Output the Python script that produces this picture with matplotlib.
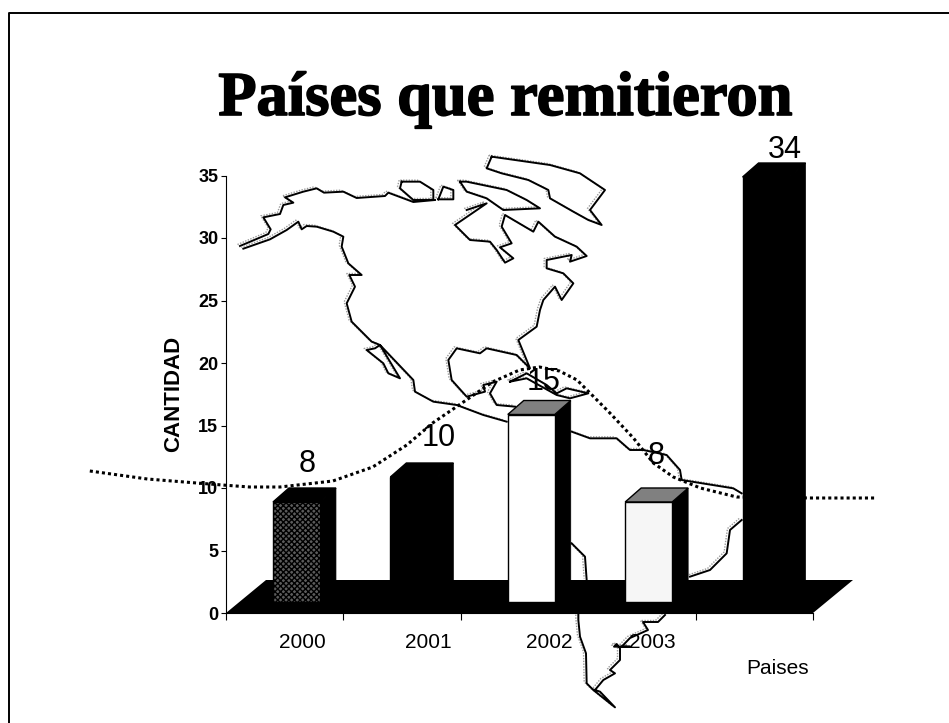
import matplotlib
matplotlib.use('Agg')
import matplotlib.pyplot as plt
import matplotlib.patheffects as pe
import numpy as np

plt.rcParams['font.family'] = ['Liberation Sans', 'DejaVu Sans']

# chart values
years = ['2000', '2001', '2002', '2003']
counts = [8, 10, 15, 8, 34]
y_ticks = [0, 5, 10, 15, 20, 25, 30, 35]

# dotted trend line (x in category units)
trend_x = [-1.16, -0.67, -0.25, -0.03, 0.2, 0.46, 0.91, 1.25, 1.54, 1.76, 2.01, 2.27,
           2.5, 2.67, 2.84, 2.99, 3.27, 3.47, 3.64, 3.81, 4.04, 4.35, 4.99, 5.53]
trend_y = [11.36, 10.72, 10.4, 10.24, 10.08, 10.08, 10.56, 11.68, 13.44, 15.2, 16.8, 18.48,
           19.44, 19.68, 19.36, 18.64, 16.0, 14.0, 12.0, 10.88, 10.0, 9.28, 9.2, 9.2]

# style of the pseudo 3d bars
front_colors = ['#5c5c5c', 'black', 'white', '#f6f6f6', 'black']
front_hatch = ['xxxxxx', None, None, None, None]
top_colors = ['black', 'black', '#808080', '#808080', 'black']
label_dx = [11, 25, 12, 7, 19]
label_dy = [38, 39, 33, 46, 27]

W, H = 949, 723

# coastlines, traced in zoomed crops: (x0, y0) is the crop corner, scale 3
north_america = [(120, 318), (205, 282), (212, 268), (190, 232), (240, 222), (250, 195), (280, 188),
                 (255, 172), (310, 155), (350, 145), (372, 158), (430, 155), (470, 174), (555, 168),
                 (565, 158), (640, 186), (705, 180)]
west_coast = [(130, 326), (210, 298), (260, 270), (295, 245), (305, 268), (320, 258), (350, 260),
              (400, 275), (430, 290), (425, 320), (445, 370), (485, 405), (448, 405), (465, 440),
              (440, 490), (455, 545), (515, 605), (540, 615), (600, 715), (565, 700), (550, 670),
              (500, 630), (525, 625), (540, 615), (640, 720), (645, 755), (700, 785), (770, 795),
              (850, 825), (920, 845)]
east_coast = [(800, 210), (860, 190), (765, 255), (810, 300), (870, 305), (890, 330), (915, 368),
              (940, 355), (900, 322), (935, 310), (905, 260), (915, 225), (1000, 275), (1015, 245),
              (1065, 290), (1130, 320), (1160, 348), (1110, 365), (1115, 345), (1040, 360),
              (1040, 385), (1090, 400), (1120, 430), (1085, 480), (1065, 440), (1030, 480),
              (1020, 510), (1010, 560), (955, 600), (990, 685), (950, 645), (860, 625), (840, 640),
              (770, 625), (745, 660), (755, 720), (800, 770), (855, 755), (850, 735), (890, 725),
              (870, 760), (890, 795), (945, 800)]
baffin = [(875, 50), (860, 85), (905, 100), (985, 120), (1045, 150), (1050, 175), (1120, 215),
          (1165, 240), (1205, 255), (1170, 210), (1215, 150), (1140, 100), (1050, 75), (875, 50)]
victoria = [(605, 125), (600, 145), (640, 180), (700, 180), (700, 150), (660, 125), (605, 125)]
small_isle = [(715, 178), (730, 140), (760, 150), (760, 178), (715, 178)]
ellesmere = [(780, 125), (800, 155), (860, 175), (910, 210), (1020, 205), (980, 180), (920, 150),
             (800, 125), (780, 125)]
cuba = [(930, 725), (980, 700), (1040, 735), (1070, 760), (1100, 745), (1165, 760), (1110, 775),
        (1070, 765), (980, 715), (930, 725)]
south_north = [(155, 95), (210, 115), (290, 115), (330, 150), (370, 150), (440, 165), (480, 210),
               (485, 240), (640, 265), (665, 280)]
south_east = [(665, 360), (630, 390), (620, 460), (570, 510), (510, 530)]
south_west_top = [(155, 430), (195, 470), (200, 540)]
tip = [(115, -20), (115, 0), (120, 50), (138, 100), (140, 190), (160, 210), (225, 262), (180, 215),
       (165, 210), (190, 180), (225, 160), (210, 150), (240, 120), (240, 85), (230, 72), (222, 80),
       (270, 80), (245, 80), (270, 54), (324, 30), (309, 6), (354, 6), (375, -15)]

coast = [((200, 140), north_america), ((200, 140), west_coast), ((200, 140), east_coast),
         ((200, 140), baffin), ((200, 140), victoria), ((200, 140), small_isle),
         ((200, 140), ellesmere), ((200, 140), cuba), ((520, 400), south_north),
         ((520, 400), south_east), ((520, 400), south_west_top), ((540, 620), tip)]

fig = plt.figure(figsize=(W / 100, H / 100), dpi=100)

# background sheet: frame and map, in pixels
bg = fig.add_axes([0, 0, 1, 1], zorder=0)
bg.set_xlim(0, W)
bg.set_ylim(H, 0)
bg.axis('off')
bg.plot([9.5, 9.5, W], [H, 13, 13], color='black', lw=1.4)

for (x0, y0), shape in coast:
    px = np.array([x0 + p[0] / 3 for p in shape])
    py = np.array([y0 + p[1] / 3 for p in shape])
    bg.plot(px - 2.5, py - 1.5, color='#999999', lw=1, ls=(0, (1, 1)))
    bg.plot(px, py, color='black', lw=1.4, solid_joinstyle='round')

# chart axes
ax = fig.add_axes([226 / W, (H - 613) / H, (813 - 226) / W, (613 - 175.5) / H], zorder=1)
ax.patch.set_visible(False)
ax.set_xlim(0, 5)
ax.set_ylim(0, 35)
ax.spines['top'].set_visible(False)
ax.spines['right'].set_visible(False)
ax.spines['left'].set_linewidth(0.8)
ax.spines['bottom'].set_linewidth(0.8)

ax.set_yticks(y_ticks)
ax.set_yticklabels([str(v) for v in y_ticks], fontsize=13, fontweight='bold')
ax.tick_params(axis='y', length=3.5, width=0.8, pad=2)
ax.set_xticks(range(6))
ax.set_xticklabels([])
ax.tick_params(axis='x', length=5, width=0.8)

ax.text(-0.45, 17.5, 'CANTIDAD', rotation=90, ha='center', va='center', fontsize=16, fontweight='bold')

# floor of the 3d chart
floor_dx = 40 / 117.4
floor_dy = 33 / 12.5
ax.fill([0, floor_dx, 5 + floor_dx, 5], [0, floor_dy, floor_dy, 0], color='black', lw=0, zorder=2, clip_on=False)

# trend line goes under the bars
ax.plot(trend_x, trend_y, color='black', lw=2.2, ls=(0, (1, 1)), zorder=2.5, clip_on=False)

lift = 11 / 12.5
bar_w = 47 / 117.4
dx = 16 / 117.4
dy = 14 / 12.5
x_pos = np.arange(len(counts)) + 0.40

for i, c in enumerate(counts):
    x = x_pos[i]
    top = lift + c
    ax.fill([x + bar_w, x + bar_w + dx, x + bar_w + dx, x + bar_w],
            [lift, lift + dy, top + dy, top], color='black', lw=0.5, zorder=3, clip_on=False)
    ax.fill([x, x + dx, x + bar_w + dx, x + bar_w], [top, top + dy, top + dy, top],
            facecolor=top_colors[i], edgecolor='black', lw=1, zorder=3, clip_on=False)
    ax.bar(x, c, bar_w, bottom=lift, align='edge', color=front_colors[i], edgecolor='black',
           lw=1, hatch=front_hatch[i], zorder=4, clip_on=False)
    ax.annotate(str(c), (x + bar_w / 2, top), xytext=(label_dx[i] * 0.72, label_dy[i] * 0.72),
                textcoords='offset points', ha='center', va='center', fontsize=22, zorder=6,
                annotation_clip=False)

# category labels sit off the ticks because of the 3d depth
label_pos = [0.647, 1.72, 2.75, 3.63]
for pos, year in zip(label_pos, years):
    ax.annotate(year, (pos, 0), xytext=(0, -21), textcoords='offset points', ha='center', va='center',
                fontsize=15, zorder=6, annotation_clip=False)
ax.annotate('Paises', (4.70, 0), xytext=(0, -40), textcoords='offset points', ha='center', va='center',
            fontsize=15, zorder=6, annotation_clip=False)

fig.text(505.5 / W, 1 - 115 / H, 'Países que remitieron', ha='center', va='baseline', fontsize=45,
         fontweight='bold', family=['Liberation Serif', 'DejaVu Serif'],
         path_effects=[pe.withStroke(linewidth=1.2, foreground='black')])

fig.savefig('out.png', dpi=100)
